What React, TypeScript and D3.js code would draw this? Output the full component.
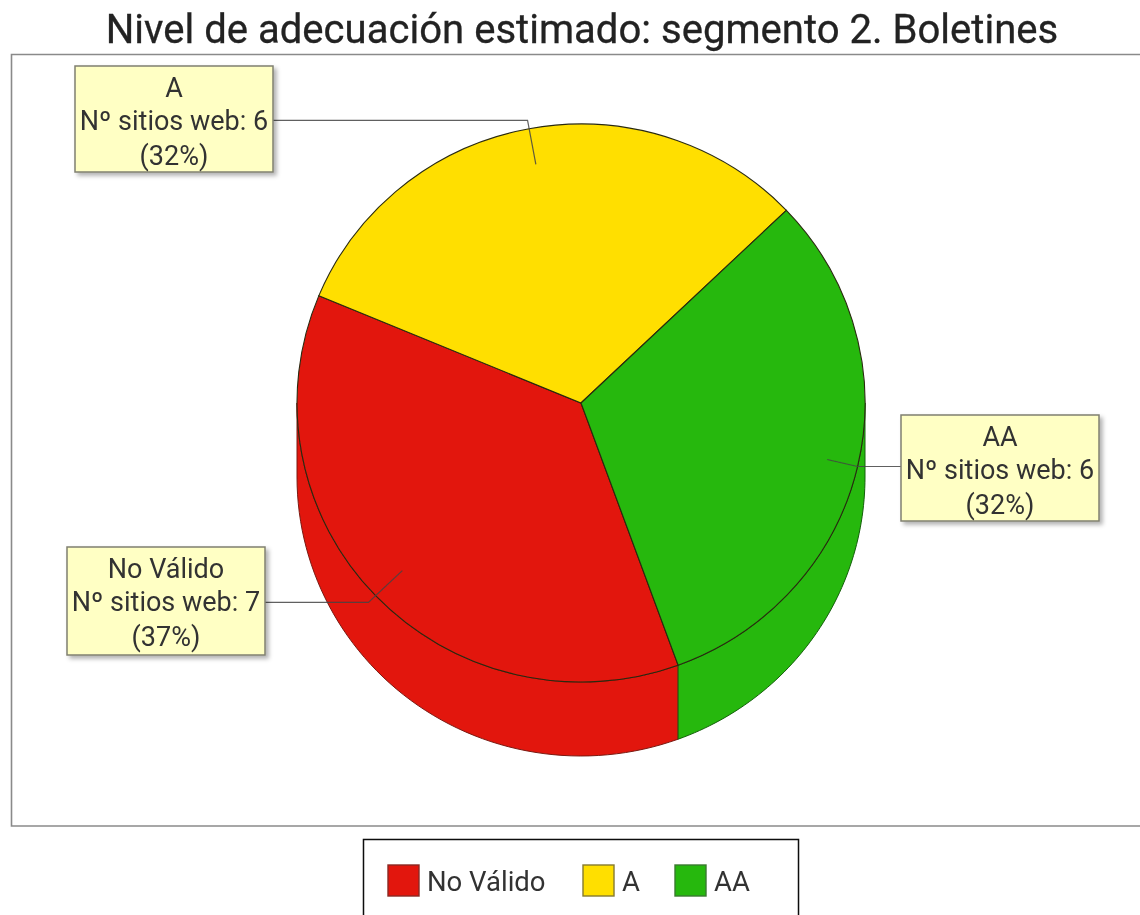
import React from 'react';
import * as d3 from 'd3';

const categories = ['No Válido', 'A', 'AA'];
const siteCounts = [7, 6, 6];
const percentLabels = ['37%', '32%', '32%'];
const sliceColors = ['#e2140c', '#ffdf00', '#25b80e'];
const edgeColors = ['#7a1a12', '#7a6a10', '#14600a'];
const swatchEdges = ['#8a2a24', '#857a30', '#3a7a30'];

const titleText = 'Nivel de adecuación estimado: segmento 2. Boletines';
const countPrefix = 'Nº sitios web: ';

const W = 1140, H = 915;
const cx = 581, cy = 403, rx = 284, ry = 279, depth = 74;
const FONT = 'Roboto, sans-serif';

// label boxes, same order as categories
const boxes = [
  { x: 67, y: 547, w: 198, h: 108 },
  { x: 75, y: 66, w: 198, h: 106 },
  { x: 901, y: 415, w: 198, h: 106 },
];
const leaderInner = [0.87, 0.87, 0.89];
const leaderElbow = [1.035, 1.03, 1.0];
const legendX = [388, 583, 675];

const startDeg = 160;
const pie = d3.pie<number>().sort(null)
  .startAngle((startDeg * Math.PI) / 180)
  .endAngle(((startDeg + 360) * Math.PI) / 180);
const arcs = pie(siteCounts);

const px = (a: number, r = 1) => cx + rx * r * Math.sin(a);
const py = (a: number, r = 1) => cy - ry * r * Math.cos(a);

// wall of the extruded pie: only the part between 90 and 270 degrees shows
function sidePath(a0: number, a1: number) {
  const norm = (a: number) => ((a % (2 * Math.PI)) + 2 * Math.PI) % (2 * Math.PI);
  const s = norm(a0);
  const e = s + (a1 - a0);
  const from = Math.max(s, Math.PI / 2);
  const to = Math.min(e, (3 * Math.PI) / 2);
  if (to <= from) return null;
  const steps = d3.range(0, 61).map((i) => from + ((to - from) * i) / 60);
  const top = steps.map((a) => [px(a), py(a)] as [number, number]);
  const bottom = steps.slice().reverse().map((a) => [px(a), py(a) + depth] as [number, number]);
  return d3.line()([...top, ...bottom]) + 'Z';
}

const sliceArc = d3.arc<d3.PieArcDatum<number>>().innerRadius(0).outerRadius(rx);

export default function App() {
  return (
    <svg width={W} height={H} viewBox={`0 0 ${W} ${H}`} style={{ position: 'absolute', left: 0, top: 0, background: '#fff' }} fontFamily={FONT}>
      <defs>
        <filter id="boxShadow" x="-10%" y="-10%" width="125%" height="125%">
          <feDropShadow dx="3" dy="3" stdDeviation="2" floodColor="#000" floodOpacity="0.3" />
        </filter>
        <filter id="soft" x="0" y="0" width="100%" height="100%" filterUnits="userSpaceOnUse">
          <feGaussianBlur stdDeviation="0.45" />
        </filter>
      </defs>

      <g filter="url(#soft)">
        <text x={582} y={43} textAnchor="middle" fontSize={40.1} fill="#222" stroke="#222" strokeWidth={0.3}>{titleText}</text>

        <path d={`M${W + 2},54.5 H11.5 V826 H${W + 2}`} fill="#fff" stroke="#8a8a8a" strokeWidth={1.6} />

        {/* side wall */}
        {arcs.map((d, i) => {
          const p = sidePath(d.startAngle, d.endAngle);
          return p ? <path key={i} d={p} fill={sliceColors[i]} stroke={edgeColors[i]} strokeWidth={1} /> : null;
        })}

        {/* top face */}
        <g transform={`translate(${cx},${cy}) scale(1,${ry / rx})`}>
          {arcs.map((d, i) => (
            <path key={i} d={sliceArc(d) as string} fill={sliceColors[i]} stroke="#2a2a10" strokeWidth={1.1} vectorEffect="non-scaling-stroke" />
          ))}
        </g>

        {/* leaders */}
        {arcs.map((d, i) => {
          const mid = (d.startAngle + d.endAngle) / 2;
          const b = boxes[i];
          const ey = py(mid, leaderElbow[i]);
          const ex = px(mid, leaderElbow[i]);
          const boxEdge = ex < cx ? b.x + b.w : b.x;
          return (
            <path key={i} d={d3.line()([[px(mid, leaderInner[i]), py(mid, leaderInner[i])], [ex, ey], [boxEdge, ey]]) as string} fill="none" stroke="#444" strokeOpacity={0.85} strokeWidth={1.2} />
          );
        })}

        {/* label boxes */}
        {categories.map((c, i) => {
          const b = boxes[i];
          const mx = b.x + b.w / 2;
          return (
            <g key={c}>
              <rect x={b.x} y={b.y} width={b.w} height={b.h} fill="#ffffc4" stroke="#808070" strokeWidth={1.5} filter="url(#boxShadow)" />
              <text textAnchor="middle" fontSize={27} fill="#333">
                <tspan x={mx} y={b.y + 31}>{c}</tspan>
                <tspan x={mx} y={b.y + 64}>{countPrefix + siteCounts[i]}</tspan>
                <tspan x={mx} y={b.y + 99}>({percentLabels[i]})</tspan>
              </text>
            </g>
          );
        })}

        {/* legend */}
        <path d={`M363.5,${H + 2} V839.5 H798.5 V${H + 2}`} fill="#fff" stroke="#111" strokeWidth={1.5} />
        {categories.map((c, i) => (
          <g key={c}>
            <rect x={legendX[i]} y={865} width={31} height={31} fill={sliceColors[i]} stroke={swatchEdges[i]} strokeWidth={1.4} />
            <text x={legendX[i] + 39} y={891} fontSize={27.5} fill="#333">{c}</text>
          </g>
        ))}
      </g>
    </svg>
  );
}
